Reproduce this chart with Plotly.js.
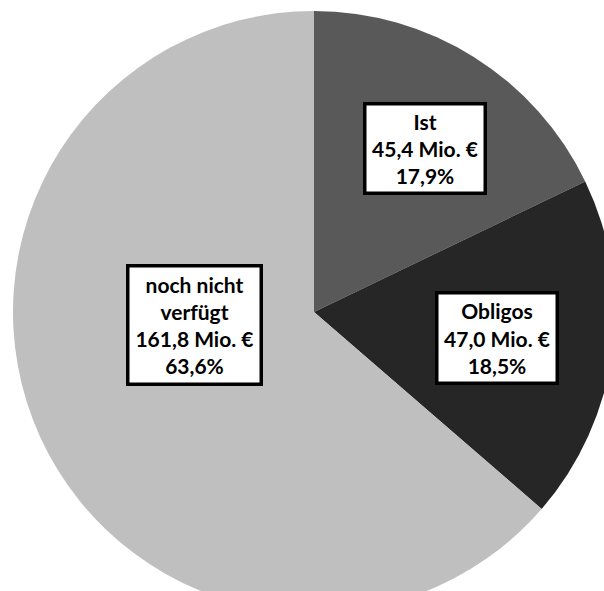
<!DOCTYPE html>
<html>
<head>
<meta charset="utf-8">
<script src="https://cdn.plot.ly/plotly-3.0.1.min.js"></script>
<style>
html, body { margin: 0; padding: 0; overflow: hidden; background: #ffffff; }
#chart { width: 628px; height: 624px; }
</style>
</head>
<body>
<div id="chart"></div>
<script>
// Data
const categories = ["Ist", "Obligos", "noch nicht<br>verfügt"];
const values = [45.4, 47.0, 161.8];          // Mio. €
const percents = [17.9, 18.5, 63.6];          // % as printed
const colors = ["#595959", "#262626", "#bfbfbf"];

// label box positions (paper coords) and sizes
const labelPos = [
  {x: 0.6852, y: 0.7708, w: 117, h: 86},
  {x: 0.8048, y: 0.4576, w: 117, h: 87},
  {x: 0.3007, y: 0.4792, w: 130, h: 115}
];

function de(n) { return n.toFixed(1).replace(".", ","); }

const trace = {
  type: "pie",
  labels: categories,
  values: values,
  sort: false,
  direction: "clockwise",
  rotation: 0,
  marker: { colors: colors, line: { width: 0 } },
  textinfo: "none",
  hoverinfo: "none",
  showlegend: false
};

const annotations = categories.map((c, i) => ({
  xref: "paper", yref: "paper",
  x: labelPos[i].x, y: labelPos[i].y,
  xanchor: "center", yanchor: "middle",
  showarrow: false,
  text: c + "<br>" + de(values[i]) + " Mio. €<br>" + de(percents[i]) + "%",
  font: { family: "Lato, 'Open Sans', sans-serif", size: 21, color: "#000000", weight: "bold" },
  bgcolor: "#ffffff",
  bordercolor: "#000000",
  borderwidth: 3.5,
  borderpad: 0,
  width: labelPos[i].w,
  height: labelPos[i].h,
  align: "center"
}));

const layout = {
  width: 628, height: 624,
  margin: { l: 13, r: 13, t: 11, b: 11, pad: 0 },
  paper_bgcolor: "#ffffff",
  plot_bgcolor: "#ffffff",
  annotations: annotations,
  showlegend: false
};

Plotly.newPlot("chart", [trace], layout, { staticPlot: true, displayModeBar: false });
</script>
</body>
</html>
